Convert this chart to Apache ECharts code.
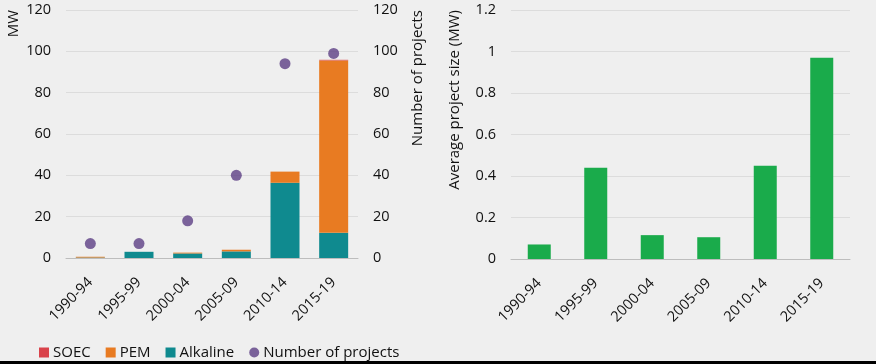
<!DOCTYPE html>
<html><head><meta charset="utf-8">
<script src="https://cdn.jsdelivr.net/npm/echarts@6/dist/echarts.min.js"></script>
<style>html,body{margin:0;padding:0;background:#efefef}#c{width:876px;height:364px}</style>
</head><body><div id="c"></div>
<script>
const categories = ['1990-94','1995-99','2000-04','2005-09','2010-14','2015-19'];
const alkaline = [0.2, 3.0, 2.2, 3.2, 36.4, 12.2];
const pem = [0.4, 0, 0.4, 0.8, 5.4, 83.4];
const soec = [0, 0, 0, 0, 0, 0.3];
const projects = [7, 7, 18, 40, 94, 99];
const avgSize = [0.07, 0.44, 0.115, 0.105, 0.45, 0.97];

const FONT = 'Open Sans';
const txt = '#111';
const chart = echarts.init(document.getElementById('c'), null, {renderer:'canvas'});
const catAxis = (gi) => ({
  type:'category', gridIndex:gi, data:categories,
  axisLine:{show:true, lineStyle:{color:'#bdbdbd'}}, axisTick:{show:false},
  axisLabel:{rotate:45, color:txt, fontFamily:FONT, fontSize:14.5, margin:22, interval:0}
});
const valAxis = (gi, max, interval, pos, fmt) => ({
  type:'value', gridIndex:gi, min:0, max:max, interval:interval, position:pos,
  axisLine:{show:false}, axisTick:{show:false},
  splitLine:{show:true, lineStyle:{color:'#dcdcdc', width:1}},
  axisLabel:{color:txt, fontFamily:FONT, fontSize:14.5, margin:15, formatter:fmt}
});
chart.setOption({
  backgroundColor:'#efefef',
  animation:false,
  grid:[
    {left:66, right:518, top:10, bottom:106},
    {left:511, right:26, top:10, bottom:105}
  ],
  xAxis:[catAxis(0), catAxis(1)],
  yAxis:[
    valAxis(0, 120, 20, 'left'),
    Object.assign(valAxis(0, 120, 20, 'right'), {splitLine:{show:false}}),
    valAxis(1, 1.2, 0.2, 'left', v => String(Math.round(v*10)/10))
  ],
  legend:{
    left:34, top:340, itemWidth:10, itemHeight:10, itemGap:15,
    textStyle:{color:txt, fontFamily:FONT, fontSize:15, padding:[0,0,0,-1]},
    data:[
      {name:'SOEC', icon:'rect'},
      {name:'PEM', icon:'rect'},
      {name:'Alkaline', icon:'rect'},
      {name:'Number of projects', icon:'circle'}
    ]
  },
  graphic:[
    {type:'text', x:14, y:10, rotation:Math.PI/2, style:{text:'MW', textAlign:'right', textVerticalAlign:'middle', fill:txt, font:'15px "Open Sans"'}},
    {type:'text', x:418, y:10, rotation:Math.PI/2, style:{text:'Number of projects', textAlign:'right', textVerticalAlign:'middle', fill:txt, font:'15px "Open Sans"'}},
    {type:'text', x:455, y:10, rotation:Math.PI/2, style:{text:'Average project size (MW)', textAlign:'right', textVerticalAlign:'middle', fill:txt, font:'15px "Open Sans"'}},
    {type:'rect', shape:{x:0, y:361, width:876, height:3}, style:{fill:'#000'}}
  ],
  series:[
    {name:'Alkaline', type:'bar', stack:'mw', xAxisIndex:0, yAxisIndex:0, data:alkaline, barWidth:29, itemStyle:{color:'#0f8a8f'}},
    {name:'PEM', type:'bar', stack:'mw', xAxisIndex:0, yAxisIndex:0, data:pem, barWidth:29, itemStyle:{color:'#e87b22'}},
    {name:'SOEC', type:'bar', stack:'mw', xAxisIndex:0, yAxisIndex:0, data:soec, barWidth:29, itemStyle:{color:'#d9434b'}},
    {name:'Number of projects', type:'scatter', xAxisIndex:0, yAxisIndex:1, data:projects, symbolSize:11, itemStyle:{color:'#5c3f85'}, z:5},
    {name:'Average project size', type:'bar', xAxisIndex:1, yAxisIndex:2, data:avgSize, barWidth:23, itemStyle:{color:'#1aab4b'}}
  ]
});
</script></body></html>
